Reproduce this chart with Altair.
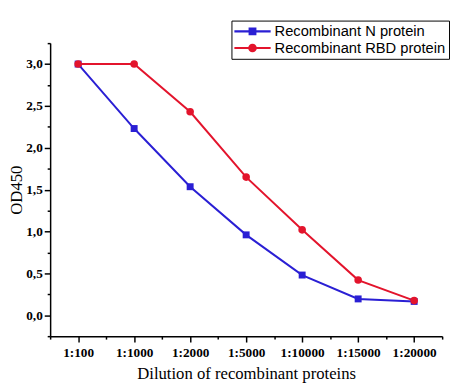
import altair as alt
import pandas as pd

dilutions = ["1:100", "1:1000", "1:2000", "1:5000", "1:10000", "1:15000", "1:20000"]
series_names = ["Recombinant N protein", "Recombinant RBD protein"]
n_values = [3.0, 2.23, 1.535, 0.96, 0.48, 0.195, 0.165]
rbd_values = [3.0, 3.0, 2.43, 1.65, 1.02, 0.42, 0.175]
colors = ["#2a1fd4", "#e3142c"]

rows = []
for i, d in enumerate(dilutions):
    rows.append({"idx": i, "dilution": d, "series": series_names[0], "od": n_values[i]})
    rows.append({"idx": i, "dilution": d, "series": series_names[1], "od": rbd_values[i]})
df = pd.DataFrame(rows)

label_js = "[" + ",".join("'" + d + "'" for d in dilutions) + "]"

x_enc = alt.X(
    "idx:Q",
    scale=alt.Scale(domain=[-0.5, 6.5], nice=False, zero=False),
    axis=alt.Axis(
        title="Dilution of recombinant proteins",
        values=[i * 0.5 - 0.5 for i in range(15)],
        labelExpr="datum.value % 1 == 0 ? " + label_js + "[datum.value] : ''",
        tickSize={"condition": {"test": "datum.value % 1 == 0", "value": 6}, "value": 3},
        grid=False,
        labelFont="Liberation Serif", labelFontWeight="bold", labelFontSize=13.5,
        labelColor="black", labelPadding=4,
        titleFont="Liberation Serif", titleFontWeight="normal", titleFontSize=17,
        titleColor="black", titlePadding=7,
        domainColor="black", domainWidth=1.5, tickColor="black", tickWidth=1.5,
    ),
)
y_enc = alt.Y(
    "od:Q",
    scale=alt.Scale(domain=[-0.25, 3.25], nice=False, zero=False),
    axis=alt.Axis(
        title="OD450",
        values=[i * 0.25 - 0.25 for i in range(15)],
        labelExpr="datum.value >= 0 && datum.value <= 3 && (datum.value * 2) % 1 == 0 ? replace(format(datum.value, '.1f'), '.', ',') : ''",
        tickSize={"condition": {"test": "(datum.value * 2) % 1 == 0", "value": 6}, "value": 3},
        grid=False,
        labelFont="Liberation Serif", labelFontWeight="bold", labelFontSize=13.5,
        labelColor="black", labelPadding=2,
        titleFont="Liberation Serif", titleFontWeight="normal", titleFontSize=17,
        titleColor="black", titlePadding=0,
        domainColor="black", domainWidth=1.5, tickColor="black", tickWidth=1.5,
    ),
)

# legend glyphs: line segment with a marker in the middle (16px symbol box, scale 8px/unit)
sq_path = ("M-1,-0.13L3.625,-0.13L3.625,0.13L-1,0.13Z "
           "M0.81,-0.5L1.81,-0.5L1.81,0.5L0.81,0.5Z")
ci_path = ("M-1,-0.13L3.625,-0.13L3.625,0.13L-1,0.13Z "
           "M0.76,0A0.55,0.55 0 1,1 1.86,0A0.55,0.55 0 1,1 0.76,0Z")

base = alt.Chart(df).encode(x=x_enc, y=y_enc)

n_data = base.transform_filter(alt.datum.series == series_names[0])
rbd_data = base.transform_filter(alt.datum.series == series_names[1])

n_line = n_data.mark_line(strokeWidth=2, color=colors[0])
rbd_line = rbd_data.mark_line(strokeWidth=2, color=colors[1])
n_pts = n_data.mark_square(size=50, opacity=1, color=colors[0])
rbd_pts = rbd_data.mark_circle(size=60, opacity=1, color=colors[1])

legend_props = dict(
    title=None, orient="none", legendX=185, legendY=-23,
    strokeColor="black", padding=3, cornerRadius=0,
    labelFont="Liberation Sans", labelFontSize=15, labelColor="black",
    labelOffset=25, symbolSize=256, symbolOpacity=1, rowPadding=1,
    symbolStrokeWidth=0, labelLimit=300,
)

legend_layer = base.mark_point(filled=True, opacity=0).encode(
    color=alt.Color("series:N", scale=alt.Scale(domain=series_names, range=colors),
                    legend=alt.Legend(**legend_props)),
    shape=alt.Shape("series:N", scale=alt.Scale(domain=series_names, range=[sq_path, ci_path]),
                    legend=alt.Legend(**legend_props)),
)

chart = alt.layer(n_line, rbd_line, n_pts, rbd_pts, legend_layer).properties(
    width=400, height=299,
    padding={"left": 0, "top": 8, "right": 0, "bottom": 0},
    background="white",
).configure_view(stroke=None)

chart.save("out.html", embed_options={"renderer": "svg", "actions": False})
